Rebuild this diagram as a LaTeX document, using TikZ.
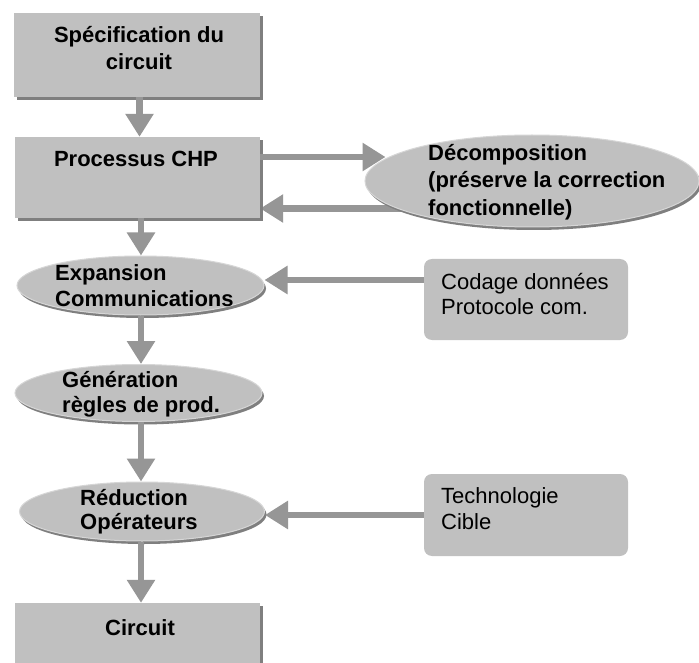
\documentclass[tikz,border=0pt]{standalone}
\usepackage{fontspec}
\setmainfont{Liberation Sans}
\usetikzlibrary{arrows.meta,calc,shapes.geometric,shadows,backgrounds}
\definecolor{boxgray}{HTML}{C0C0C0}
\definecolor{arrgray}{HTML}{969696}
\definecolor{shadowgray}{HTML}{7F7F7F}
\definecolor{rimgray}{HTML}{D6D6D6}
\begin{document}
\begin{tikzpicture}[x=1pt,y=-1pt,
  sqbox/.style={rectangle, fill=boxgray, inner sep=0pt,
    drop shadow={shadow xshift=3pt, shadow yshift=-3pt, fill=shadowgray, opacity=1}},
  ellbox/.style={ellipse, fill=boxgray, draw=rimgray, line width=1pt, inner sep=0pt,
    drop shadow={shadow xshift=2pt, shadow yshift=-3pt, fill=shadowgray, opacity=1}},
  rbox/.style={rectangle, rounded corners=8pt, fill=boxgray, inner sep=0pt,
    minimum width=204pt},
  bl/.style={anchor=base west, inner sep=0pt, font=\bfseries\fontsize{22}{26}\selectfont},
  bc/.style={anchor=base, inner sep=0pt, font=\bfseries\fontsize{22}{26}\selectfont},
  rl/.style={anchor=base west, inner sep=0pt, font=\fontsize{22}{26}\selectfont},
  arr/.style={draw=arrgray, line width=6.5pt, -{Triangle[width=27pt,length=23pt]}}
]
\useasboundingbox (0,0) rectangle (699,663);
\clip (0,0) rectangle (699,663);

% shapes
\node[sqbox, minimum width=246pt, minimum height=84pt] (spec) at (137,55) {};
\node[sqbox, minimum width=245pt, minimum height=81pt] (chp) at (137.5,177.5) {};
\node[sqbox, minimum width=245pt, minimum height=80pt] (circ) at (137.5,643) {};
\node[ellbox, minimum width=334pt, minimum height=92pt] (decomp) at (532,181) {};
\node[ellbox, minimum width=247pt, minimum height=59pt] (exp) at (140.5,285.5) {};
\node[ellbox, minimum width=247pt, minimum height=57pt] (gen) at (138.5,393) {};
\node[ellbox, minimum width=245pt, minimum height=59pt] (red) at (142,511.5) {};
\node[rbox, minimum height=81pt] (codage) at (526,299.5) {};
\node[rbox, minimum height=82pt] (techno) at (526,515) {};

% texts
\node[bc] (tspec1) at (139,43) {Spécification du};
\node[bc] (tspec2) at (139,70) {circuit};
\node[bc] (tchp) at (136,167) {Processus CHP};
\node[bl] (tdec1) at (428,161) {Décomposition};
\node[bl] (tdec2) at (428,188) {(préserve la correction};
\node[bl] (tdec3) at (428,216) {fonctionnelle)};
\node[bl] (texp1) at (55,280) {Expansion};
\node[bl] (texp2) at (55,306) {Communications};
\node[bl] (tgen1) at (62,387) {Génération};
\node[bl] (tgen2) at (62,412) {règles de prod.};
\node[bl] (tred1) at (80,505) {Réduction};
\node[bl] (tred2) at (80,529) {Opérateurs};
\node[rl] (tcod1) at (441,289) {Codage données};
\node[rl] (tcod2) at (441,314) {Protocole com.};
\node[rl] (ttec1) at (441,503) {Technologie};
\node[rl] (ttec2) at (441,529) {Cible};
\node[bc] (tcirc) at (140,635) {Circuit};

% helper coordinates
\coordinate (axa) at (139.5,0);
\coordinate (axb) at (141,0);
\coordinate (ya) at (0,157);
\coordinate (yb) at (0,208.5);
\coordinate (yc) at (0,280);
\coordinate (yd) at (0,515);

% connectors
\draw[arr] (spec.south -| axa) -- (chp.north -| axa);
\draw[arr] (chp.south -| axb) -- (exp.north -| axb);
\draw[arr] (exp.south -| axb) -- (gen.north -| axb);
\draw[arr] (gen.south -| axb) -- (red.north -| axb);
\draw[arr] (red.south -| axb) -- (circ.north -| axb);
\draw[arr] (chp.east |- ya) -- ($(decomp.west |- ya)+(21,0)$);
\begin{pgfonlayer}{background}
\fill[white] (0,0) rectangle (699,663);
\draw[arr] ($(decomp.west |- yb)+(40,0)$) -- (chp.east |- yb);
\end{pgfonlayer}
\draw[arr] (codage.west |- yc) -- (exp.east |- yc);
\draw[arr] (techno.west |- yd) -- (red.east |- yd);
\end{tikzpicture}
\end{document}
